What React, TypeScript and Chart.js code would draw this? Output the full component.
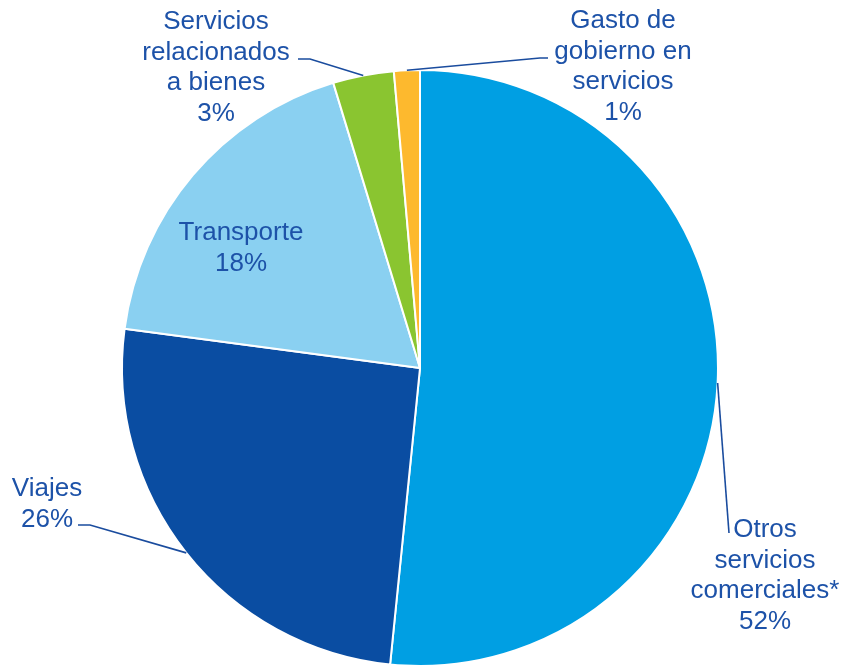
import React, { useEffect, useRef } from "react";
import { Chart, registerables } from "chart.js";

Chart.register(...registerables);

const categories = [
  "Otros servicios comerciales*",
  "Viajes",
  "Transporte",
  "Servicios relacionados a bienes",
  "Gasto de gobierno en servicios",
];
const labelLines = [
  ["Otros", "servicios", "comerciales*"],
  ["Viajes"],
  ["Transporte"],
  ["Servicios", "relacionados", "a bienes"],
  ["Gasto de", "gobierno en", "servicios"],
];
const shares = [51.6, 25.5, 18.2, 3.3, 1.4];
const colors = ["#009FE3", "#0A4DA2", "#8AD0F1", "#8AC530", "#FDB92E"];

// label placement (layout only): text centre x, first baseline y, leader path points
const labelLayout = [
  { x: 765, y: 537, path: [[729, 533]] },
  { x: 47, y: 496, path: [[90, 525], [78, 525]] },
  { x: 241, y: 240, path: [] },
  { x: 216, y: 29, path: [[310, 59], [298, 59]] },
  { x: 623, y: 28, path: [[540, 58], [548, 58]] },
];

const TEXT_COLOR = "#1D52A8";
const LINE_COLOR = "#1A4C9E";
const FONT = '26px "Liberation Sans", Arial, sans-serif';
const LINE_H = 30.5;

const labelPlugin = {
  id: "pieLabels",
  afterDatasetsDraw(chart: any) {
    const ctx = chart.ctx;
    const meta = chart.getDatasetMeta(0);
    ctx.save();
    meta.data.forEach((arc: any, i: number) => {
      const lay = labelLayout[i];
      const { x, y, startAngle, endAngle, outerRadius } = arc.getProps(
        ["x", "y", "startAngle", "endAngle", "outerRadius"],
        true
      );
      if (lay.path.length) {
        const mid = (startAngle + endAngle) / 2;
        const sx = x + Math.cos(mid) * outerRadius;
        const sy = y + Math.sin(mid) * outerRadius;
        ctx.beginPath();
        ctx.strokeStyle = LINE_COLOR;
        ctx.lineWidth = 1.6;
        ctx.moveTo(sx, sy);
        lay.path.forEach((p) => ctx.lineTo(p[0], p[1]));
        ctx.stroke();
      }
      const lines = [...labelLines[i], Math.round(shares[i]) + "%"];
      ctx.fillStyle = TEXT_COLOR;
      ctx.font = FONT;
      ctx.textAlign = "center";
      ctx.textBaseline = "alphabetic";
      lines.forEach((t, k) => ctx.fillText(t, lay.x, lay.y + k * LINE_H));
    });
    ctx.restore();
  },
};

export default function App() {
  const ref = useRef<HTMLCanvasElement>(null);
  useEffect(() => {
    if (!ref.current) return;
    const chart = new Chart(ref.current, {
      type: "pie",
      data: {
        labels: categories,
        datasets: [
          {
            data: shares,
            backgroundColor: colors,
            borderColor: "#FFFFFF",
            borderWidth: 2,
          },
        ],
      },
      options: {
        responsive: false,
        maintainAspectRatio: false,
        animation: false,
        layout: { padding: { top: 69, bottom: 0, left: 0, right: 1 } },
        plugins: {
          legend: { display: false },
          tooltip: { enabled: false },
        },
      },
      plugins: [labelPlugin],
    });
    return () => chart.destroy();
  }, []);
  return (
    <div style={{ position: "fixed", left: 0, top: 0, width: 841, height: 667, background: "#fff" }}>
      <canvas ref={ref} width={841} height={667} />
    </div>
  );
}
